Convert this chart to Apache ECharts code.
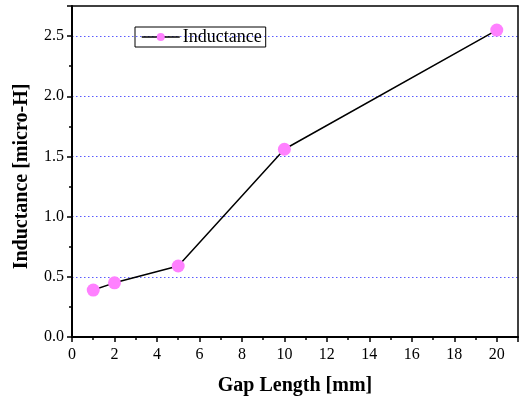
<!DOCTYPE html>
<html><head><meta charset="utf-8">
<script src="https://cdn.jsdelivr.net/npm/echarts@6/dist/echarts.min.js"></script>
<style>html,body{margin:0;padding:0;background:#fff}#c{width:519px;height:400px}</style>
</head><body><div id="c"></div>
<script>
const gapLength = [1, 2, 5, 10, 20];
const inductance = [0.39, 0.45, 0.59, 1.56, 2.55];
const seriesName = 'Inductance';
const xTitle = 'Gap Length [mm]';
const yTitle = 'Inductance [micro-H]';

const chart = echarts.init(document.getElementById('c'));
const serif = '"Liberation Serif", "Times New Roman", serif';
chart.setOption({
  animation: false,
  grid: { left: 72, right: 1, top: 6, bottom: 63, show: false, containLabel: false, outerBoundsMode: 'none' },
  legend: {
    data: [seriesName], left: 135, top: 27, borderColor: '#000', borderWidth: 1,
    padding: [1, 4, 1, 6], itemWidth: 38, itemHeight: 10, itemGap: 4,
    itemStyle: { color: '#ff80ff', borderWidth: 0 },
    lineStyle: { color: '#000', width: 1.5, type: 'solid' },
    textStyle: { fontFamily: serif, fontSize: 18, color: '#000', padding: [0, 0, 0, -2] }
  },
  xAxis: [{
    type: 'value', min: 0, max: 21, interval: 2,
    name: xTitle, nameLocation: 'middle', nameGap: 39,
    nameTextStyle: { fontFamily: serif, fontSize: 20, fontWeight: 'bold', color: '#000' },
    axisLine: { lineStyle: { color: '#000', width: 2 } },
    axisTick: { show: true, length: 5, lineStyle: { color: '#000', width: 1.5 } },
    minorTick: { show: true, splitNumber: 2, length: 3, lineStyle: { color: '#000', width: 1.5 } },
    axisLabel: { fontFamily: serif, fontSize: 16, color: '#000', margin: 10, showMaxLabel: false },
    splitLine: { show: false }
  }, {
    type: 'value', min: 0, max: 21, position: 'top',
    axisLine: { show: true, onZero: false, lineStyle: { color: '#000', width: 1.5 } },
    axisTick: { show: false }, axisLabel: { show: false }, splitLine: { show: false }
  }],
  yAxis: [{
    type: 'value', min: 0, max: 2.75, interval: 0.5,
    name: yTitle, nameLocation: 'middle', nameGap: 40,
    nameTextStyle: { fontFamily: serif, fontSize: 20, fontWeight: 'bold', color: '#000', padding: [0, 10, 0, 0] },
    axisLine: { lineStyle: { color: '#000', width: 2 } },
    axisTick: { show: true, length: 5, lineStyle: { color: '#000', width: 1.5 } },
    minorTick: { show: true, splitNumber: 2, length: 3, lineStyle: { color: '#000', width: 1.5 } },
    axisLabel: { fontFamily: serif, fontSize: 16, color: '#000', margin: 8, showMaxLabel: false,
      formatter: v => (Math.abs(v / 0.5 - Math.round(v / 0.5)) < 1e-6 ? v.toFixed(1) : '') },
    splitLine: { show: true, showMaxLine: false, lineStyle: { color: '#5a5aff', width: 1, type: [1.5, 2.5] } }
  }, {
    type: 'value', min: 0, max: 2.75, position: 'right',
    axisLine: { show: true, onZero: false, lineStyle: { color: '#000', width: 1.5 } },
    axisTick: { show: false }, axisLabel: { show: false }, splitLine: { show: false }
  }],
  series: [{
    name: seriesName, type: 'line',
    data: gapLength.map((x, i) => [x, inductance[i]]),
    symbol: 'circle', symbolSize: 13,
    itemStyle: { color: '#ff80ff', borderWidth: 0 },
    lineStyle: { color: '#000', width: 1.5 }
  }]
});
</script></body></html>
